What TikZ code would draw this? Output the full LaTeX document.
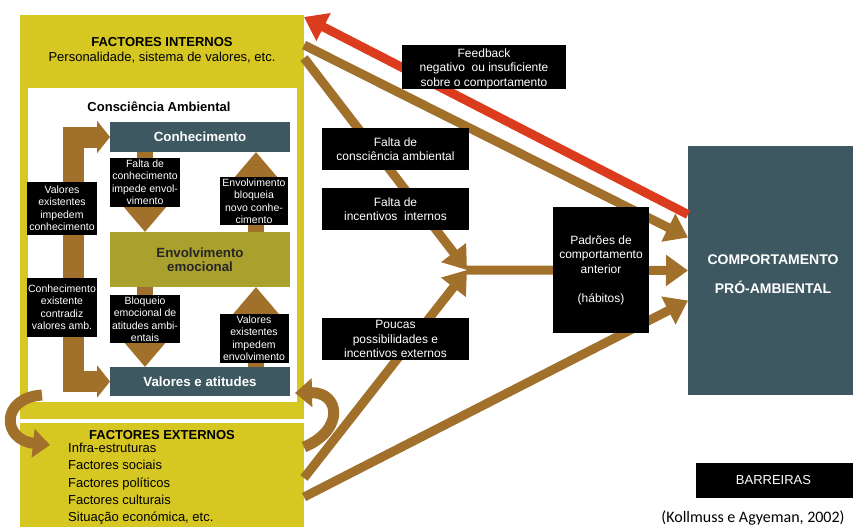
\documentclass[tikz,border=0pt]{standalone}
\usepackage{fontspec}
\setmainfont{Liberation Sans}
\newfontfamily\citefont{Carlito}
\usepackage{tikz}
\usetikzlibrary{arrows.meta, positioning}
\definecolor{amarelo}{HTML}{D6C723}
\definecolor{oliva}{HTML}{AAA02D}
\definecolor{ardosia}{HTML}{3E5862}
\definecolor{castanho}{HTML}{A1712B}
\definecolor{vermelho}{HTML}{DC3C1E}
\tikzset{
  painel/.style={fill=amarelo, inner sep=0pt, outer sep=0pt, anchor=north west},
  caixa/.style={fill=ardosia, text=white, inner sep=0pt, outer sep=0pt, anchor=north west,
    minimum width=180pt, font=\bfseries\fontsize{13.3}{14}\selectfont},
  titulo/.style={inner sep=0pt, font=\bfseries\fontsize{13}{15}\selectfont},
  rotulo/.style={fill=black, text=white, align=center, inner sep=0pt,
    font=\fontsize{10.5}{12.5}\selectfont},
  rotulogrande/.style={rotulo, font=\fontsize{12}{14.5}\selectfont},
  barra/.style={draw=castanho, line width=16pt, -{Triangle[length=27pt,width=44pt]}},
  chave/.style={draw=castanho, line width=21pt,
    {Triangle[length=13pt,width=32pt]}-{Triangle[length=13pt,width=32pt]}},
  curva/.style={draw=castanho, line width=11pt, -{Triangle[length=17pt,width=28pt]}},
  seta/.style={draw=castanho, line width=9pt, -{Triangle[length=22pt,width=30pt]}},
  realim/.style={draw=vermelho, line width=9pt, -{Triangle[length=22pt,width=30pt]}}
}

\begin{document}
\begin{tikzpicture}[x=1pt, y=-1pt]
  \useasboundingbox[fill=white] (0,0) rectangle (853,527);
  % paineis de factores
  \node[painel, minimum width=284pt, minimum height=404pt] (internos) at (20,15) {};
  \node[painel, minimum width=284pt, minimum height=104pt] (externos) at (20,423) {};
  \node[titulo] (intTit) at (162,42) {FACTORES INTERNOS};
  \node[inner sep=0pt, font=\fontsize{13}{15}\selectfont, below=5pt of intTit] (intSub)
    {Personalidade, sistema de valores, etc.};
  \node[titulo] (extTit) at (162,435) {FACTORES EXTERNOS};
  \node[anchor=north west, align=left, inner sep=0pt, font=\fontsize{13}{17.2}\selectfont] (extLista) at (68,443)
    {Infra-estruturas\\Factores sociais\\Factores políticos\\Factores culturais\\Situação económica, etc.};
  % consciencia ambiental
  \node[fill=white, anchor=north west, inner sep=0pt, outer sep=0pt,
    minimum width=269pt, minimum height=314pt] (consc) at (28,88) {};
  \node[titulo] (conscTit) at (159,107) {Consciência Ambiental};
  \node[caixa, minimum height=30pt] (conhec) at (110,122) {Conhecimento};
  \node[caixa, minimum height=55pt, fill=oliva, text=black!85, align=center] (envolv) at (110,232)
    {Envolvimento\\emocional};
  \node[caixa, minimum height=29pt] (valores) at (110,367) {Valores e atitudes};
  \draw[barra] ([xshift=35pt]conhec.south west) -- ([xshift=35pt]envolv.north west);
  \draw[barra] ([xshift=-34pt]envolv.north east) -- ([xshift=-34pt]conhec.south east);
  \draw[barra] ([xshift=35pt]envolv.south west) -- ([xshift=35pt]valores.north west);
  \draw[barra] ([xshift=-34pt]valores.north east) -- ([xshift=-34pt]envolv.south east);
  \draw[chave] (conhec.west) -- ++(-37,0) |- (valores.west);
  \node[rotulo, minimum width=70pt, minimum height=53pt] (vic) at (62,208)
    {Valores\\existentes\\impedem\\conhecimento};
  \node[rotulo, minimum width=70pt, minimum height=59pt] (cec) at (62,307)
    {Conhecimento\\existente\\contradiz\\valores amb.};
  \node[rotulo, minimum width=70pt, minimum height=49pt] (fci) at (145,182)
    {Falta de\\conhecimento\\impede envol-\\vimento};
  \node[rotulo, minimum width=68pt, minimum height=48pt] (ebn) at (254,201)
    {Envolvimento\\bloqueia\\novo conhe-\\cimento};
  \node[rotulo, minimum width=70pt, minimum height=48pt] (bea) at (145,319)
    {Bloqueio\\emocional de\\atitudes ambi-\\entais};
  \node[rotulo, minimum width=69pt, minimum height=49pt] (vie) at (254,338)
    {Valores\\existentes\\impedem\\envolvimento};
  % setas curvas entre factores
  \draw[curva] ([xshift=22pt,yshift=24pt]internos.south west) .. controls (0,398) and (2,440)
    .. ([xshift=30pt,yshift=-22pt]externos.north west);
  \draw[curva] ([yshift=-24pt]externos.north east) .. controls (345,430) and (340,392)
    .. ([xshift=-9pt,yshift=26pt]internos.south east);
  % comportamento
  \node[caixa, minimum width=165pt, minimum height=249pt] (comport) at (688,146) {};
  \node[text=white, align=center, inner sep=0pt, font=\bfseries\fontsize{14}{29}\selectfont] (comportTxt)
    at (773,274) {COMPORTAMENTO\\PRÓ-AMBIENTAL};
  \coordinate (juncao) at (467,270);
  \draw[seta] ([yshift=-30pt]internos.north east) -- ([yshift=33pt]comport.west);
  \draw[seta] ([yshift=-43pt]internos.north east) -- (juncao);
  \draw[seta] ([yshift=-55pt]externos.north east) -- (juncao);
  \draw[seta] ([yshift=-74pt]externos.north east) -- ([yshift=-30pt]comport.west);
  \draw[seta] (juncao) -- (comport.west);
  \draw[realim] ([yshift=56pt]comport.west) -- ([yshift=-2pt]internos.north east);
  % barreiras
  \node[rotulogrande, minimum width=164pt, minimum height=42pt] (feedback) at (484,67)
    {\rule{0pt}{12pt}Feedback\\negativo\ \ ou insuficiente\\sobre o comportamento};
  \node[rotulogrande, minimum width=147pt, minimum height=42pt] (faltaCons) at (395.5,149)
    {Falta de\\consciência ambiental};
  \node[rotulogrande, minimum width=147pt, minimum height=42pt] (faltaInc) at (395.5,209)
    {Falta de\\incentivos\ \ internos};
  \node[rotulogrande, minimum width=147pt, minimum height=42pt] (poucas) at (395.5,339)
    {Poucas\\possibilidades e\\incentivos externos};
  \node[rotulogrande, minimum width=96pt, minimum height=126pt] (padroes) at (601,270)
    {Padrões de\\comportamento\\anterior\\[14.5pt](hábitos)};
  \node[rotulo, minimum width=157pt, minimum height=35pt, font=\fontsize{13}{15}\selectfont] (barreiras) at (774.5,480.5)
    {\hspace{-2pt}BARREIRAS};
  \node[inner sep=0pt, font=\citefont\fontsize{16}{18}\selectfont] (fonte) at (753,518)
    {(Kollmuss e Agyeman, 2002)};
\end{tikzpicture}
\end{document}
